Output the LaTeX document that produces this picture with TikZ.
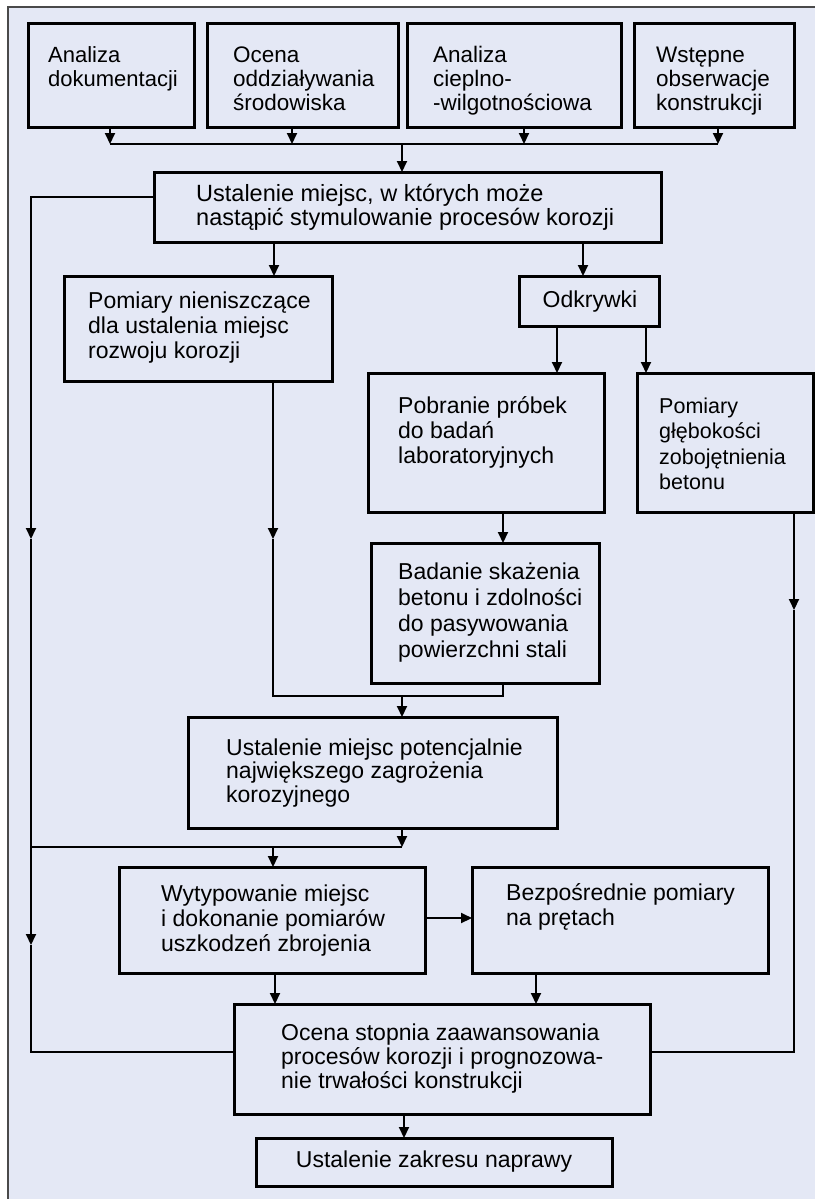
\documentclass[tikz,border=0pt]{standalone}
\usepackage{fontspec}
\setmainfont{Liberation Sans}
\usetikzlibrary{arrows.meta,calc}
\definecolor{bgc}{HTML}{E4E8F5}
\definecolor{framec}{HTML}{4A4A4A}
\newcommand{\ml}[1]{\begin{tabular}[t]{@{}l@{}}#1\end{tabular}}
\begin{document}
\begin{tikzpicture}[x=1pt,y=-1pt,
  box/.style={draw=black,line width=3pt,anchor=north west,outer sep=0pt,inner sep=0pt},
  txt/.style={anchor=base west,inner sep=0pt,font=\fontsize{23}{25}\selectfont},
  conn/.style={draw=black,line width=2pt},
  arr/.style={conn,-{Triangle[length=11pt,width=10pt]}}]
\useasboundingbox (0,0) rectangle (815,1199);
\fill[white] (0,0) rectangle (815,1199);
\fill[bgc] (8,7) rectangle (815,1199);
\draw[framec,line width=1.5pt] (8,1199) -- (8,7) -- (815,7);

% boxes
\node[box,minimum width=166pt,minimum height=103pt] (b1) at (28,24) {};
\node[box,minimum width=191pt,minimum height=103pt] (b2) at (207,24) {};
\node[box,minimum width=214pt,minimum height=103pt] (b3) at (407,24) {};
\node[box,minimum width=160pt,minimum height=103pt] (b4) at (634,24) {};
\node[box,minimum width=507pt,minimum height=70pt] (b5) at (154,172) {};
\node[box,minimum width=268pt,minimum height=105pt] (b6) at (64,276) {};
\node[box,minimum width=140pt,minimum height=50pt] (b7) at (519,276) {};
\node[box,minimum width=236pt,minimum height=139pt] (b8) at (368,373) {};
\node[box,minimum width=176pt,minimum height=139pt] (b9) at (637,373) {};
\node[box,minimum width=228pt,minimum height=140pt] (b10) at (371,543) {};
\node[box,minimum width=369pt,minimum height=111pt] (b11) at (188,717) {};
\node[box,minimum width=306pt,minimum height=106pt] (b12) at (119,867) {};
\node[box,minimum width=296pt,minimum height=106pt] (b13) at (472,867) {};
\node[box,minimum width=416pt,minimum height=110pt] (b14) at (234,1004) {};
\node[box,minimum width=356pt,minimum height=48pt] (b15) at (256,1138) {};

% texts
\node[txt,font=\fontsize{22}{23.5}\selectfont] (t1) at (48,63) {\ml{Analiza\\dokumentacji}};
\node[txt,font=\fontsize{22.5}{24}\selectfont] (t2) at (233,63) {\ml{Ocena\\oddziaływania\\środowiska}};
\node[txt,font=\fontsize{22.5}{24}\selectfont] (t3) at (433,63) {\ml{Analiza\\cieplno-\\-wilgotnościowa}};
\node[txt,font=\fontsize{22.5}{24}\selectfont] (t4) at (656,63) {\ml{Wstępne\\obserwacje\\konstrukcji}};
\node[txt,font=\fontsize{23.5}{22.5}\selectfont] (t5) at (196,201) {\ml{Ustalenie miejsc, w których może\\nastąpić stymulowanie procesów korozji}};
\node[txt] (t6) at (88,308) {\ml{Pomiary nieniszczące\\dla ustalenia miejsc\\rozwoju korozji}};
\node[txt,anchor=base] (t7) at (590,307) {Odkrywki};
\node[txt] (t8) at (398,413) {\ml{Pobranie próbek\\do badań\\laboratoryjnych}};
\node[txt,font=\fontsize{21.5}{25.5}\selectfont] (t9) at (659,413) {\ml{Pomiary\\głębokości\\zobojętnienia\\betonu}};
\node[txt,font=\fontsize{23}{26}\selectfont] (t10) at (398,579) {\ml{Badanie skażenia\\betonu i zdolności\\do pasywowania\\powierzchni stali}};
\node[txt,font=\fontsize{23}{23.5}\selectfont] (t11) at (226,755) {\ml{Ustalenie miejsc potencjalnie\\największego zagrożenia\\korozyjnego}};
\node[txt] (t12) at (161,901) {\ml{Wytypowanie miejsc\\i dokonanie pomiarów\\uszkodzeń zbrojenia}};
\node[txt] (t13) at (506,900) {\ml{Bezpośrednie pomiary\\na prętach}};
\node[txt,font=\fontsize{23}{24}\selectfont] (t14) at (281,1040) {\ml{Ocena stopnia zaawansowania\\procesów korozji i prognozowa-\\nie trwałości konstrukcji}};
\node[txt,anchor=base] (t15) at (434,1167) {Ustalenie zakresu naprawy};

% top bus
\coordinate (j1) at (110,144);
\coordinate (j2) at (292,144);
\coordinate (j3) at (524,144);
\coordinate (j4) at (718,144);
\coordinate (jc) at (402,144);
\draw[arr] (b1.south -| j1) -- (j1);
\draw[arr] (b2.south -| j2) -- (j2);
\draw[arr] (b3.south -| j3) -- (j3);
\draw[arr] (b4.south -| j4) -- (j4);
\draw[conn] (j1) -- (j4);
\draw[arr] (jc) -- (jc |- b5.north);

% left feedback line
\coordinate (L0) at (31,197);
\coordinate (La) at (31,539);
\coordinate (Lj) at (31,847);
\coordinate (Lb) at (31,945);
\coordinate (Lc) at (31,1052);
\draw[arr] (L0 -| b5.west) -- (L0) -- (La);
\draw[arr] (La) -- (Lb);
\draw[conn] (Lb) -- (Lc) -- (Lc -| b14.west);

% b5 -> b6, b5 -> b7
\coordinate (c1) at (274,260);
\coordinate (c2) at (583,260);
\draw[arr] (c1 |- b5.south) -- (c1 |- b6.north);
\draw[arr] (c2 |- b5.south) -- (c2 |- b7.north);

% b7 -> b8, b9
\coordinate (o1) at (557,350);
\coordinate (o2) at (646,350);
\draw[arr] (o1 |- b7.south) -- (o1 |- b8.north);
\draw[arr] (o2 |- b7.south) -- (o2 |- b9.north);

% b8 -> b10
\coordinate (p1) at (503,530);
\draw[arr] (p1 |- b8.south) -- (p1 |- b10.north);

% b6 and b10 -> b11
\coordinate (m1) at (273,539);
\coordinate (m2) at (273,696);
\coordinate (m3) at (503,696);
\coordinate (m4) at (402,696);
\draw[arr] (m1 |- b6.south) -- (m1);
\draw[conn] (m1) -- (m2) -- (m3) -- (m3 |- b10.south);
\draw[arr] (m4) -- (m4 |- b11.north);

% right line b9 -> b14
\coordinate (r1) at (794,610);
\coordinate (r2) at (794,1052);
\draw[arr] (r1 |- b9.south) -- (r1);
\draw[conn] (r1) -- (r2) -- (r2 -| b14.east);

% b11 -> junction -> b12
\coordinate (k1) at (402,847);
\coordinate (k2) at (273,847);
\draw[arr] (k1 |- b11.south) -- (k1);
\draw[conn] (k1) -- (Lj);
\draw[arr] (k2) -- (k2 |- b12.north);

% b12 -> b13
\coordinate (h1) at (440,918);
\draw[arr] (h1 -| b12.east) -- (h1 -| b13.west);

% to b14
\coordinate (q1) at (275,990);
\coordinate (q2) at (536,990);
\draw[arr] (q1 |- b12.south) -- (q1 |- b14.north);
\draw[arr] (q2 |- b13.south) -- (q2 |- b14.north);

% b14 -> b15
\coordinate (s1) at (404,1126);
\draw[arr] (s1 |- b14.south) -- (s1 |- b15.north);
\end{tikzpicture}
\end{document}
